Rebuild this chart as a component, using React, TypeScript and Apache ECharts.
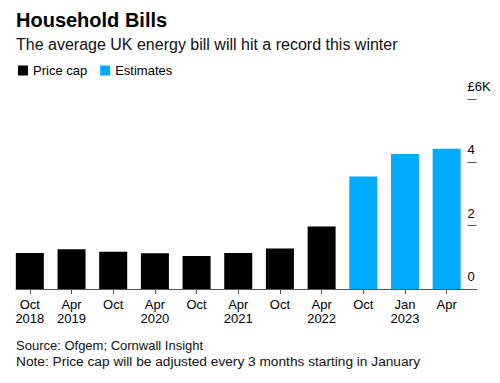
import React, { useEffect, useRef } from "react";
import * as echarts from "echarts";

const categories = ["Oct\n2018", "Apr\n2019", "Oct", "Apr\n2020", "Oct", "Apr\n2021", "Oct", "Apr\n2022", "Oct", "Jan\n2023", "Apr"];
const priceCap = [1.137, 1.254, 1.179, 1.126, 1.042, 1.138, 1.277, 1.971, null, null, null];
const estimates = [null, null, null, null, null, null, null, null, 3.549, 4.266, 4.427];
const yTicks = [0, 2, 4, 6];

const FONT = "'Liberation Sans', Arial, sans-serif";

export default function App() {
  const ref = useRef<HTMLDivElement>(null);
  useEffect(() => {
    if (!ref.current) return;
    const chart = echarts.init(ref.current, undefined, { renderer: "svg" });
    chart.setOption({
      animation: false,
      textStyle: { fontFamily: FONT },
      legend: {
        left: 18,
        top: 64,
        padding: 0,
        icon: "rect",
        itemWidth: 10,
        itemHeight: 10,
        itemGap: 13,
        textStyle: { fontSize: 13, color: "#000", fontFamily: FONT },
        data: ["Price cap", "Estimates"],
      },
      graphic: [
        { type: "text", left: 16, top: 10, style: { text: "Household Bills", font: `bold 20px ${FONT}`, fill: "#000" } },
        { type: "text", left: 16, top: 36, style: { text: "The average UK energy bill will hit a record this winter", font: `16px ${FONT}`, fill: "#111" } },
        { type: "text", left: 16, top: 339, style: { text: "Source: Ofgem; Cornwall Insight", font: `13px ${FONT}`, fill: "#111" } },
        { type: "text", left: 16, top: 354, style: { text: "Note: Price cap will be adjusted every 3 months starting in January", font: `13.7px ${FONT}`, fill: "#111" } },
      ],
      grid: [
        { left: 9, right: 32.5, top: 99, bottom: 94 },
        { left: 16, right: 23, top: 99, bottom: 94 },
      ],
      xAxis: [
        {
          type: "category",
          gridIndex: 0,
          data: categories,
          axisLine: { show: false },
          axisTick: { show: true, alignWithLabel: true, length: 5, lineStyle: { color: "#555" } },
          axisLabel: { margin: 8, fontSize: 13, lineHeight: 14.5, color: "#000", fontFamily: FONT },
        },
        {
          type: "value",
          gridIndex: 1,
          min: 0,
          max: 1,
          axisLine: { show: true, lineStyle: { color: "#555", width: 1 } },
          axisTick: { show: false },
          axisLabel: { show: false },
          splitLine: { show: false },
        },
      ],
      yAxis: [
        {
          type: "value",
          gridIndex: 0,
          position: "right",
          min: yTicks[0],
          max: yTicks[yTicks.length - 1],
          interval: 2,
          axisLine: { show: false },
          axisTick: { show: true, length: 9, lineStyle: { color: "#555" } },
          splitLine: { show: false },
          axisLabel: {
            margin: 0,
            fontSize: 13,
            color: "#000",
            fontFamily: FONT,
            verticalAlign: "bottom",
            padding: [0, 0, 6, 0],
            formatter: (v: number) => (v === 6 ? "£6K" : String(v)),
          },
        },
        { type: "value", gridIndex: 1, show: false, min: 0, max: 1 },
      ],
      series: [
        {
          name: "Price cap",
          type: "bar",
          stack: "all",
          barWidth: 28,
          xAxisIndex: 0,
          yAxisIndex: 0,
          itemStyle: { color: "#000" },
          data: priceCap.map((v) => (v === null ? "-" : v)),
        },
        {
          name: "Estimates",
          type: "bar",
          stack: "all",
          barWidth: 28,
          xAxisIndex: 0,
          yAxisIndex: 0,
          itemStyle: { color: "#00aaff" },
          data: estimates.map((v) => (v === null ? "-" : v)),
        },
      ],
    });
    return () => chart.dispose();
  }, []);
  return <div ref={ref} style={{ width: 500, height: 383, position: "absolute", left: 0, top: 0 }} />;
}
